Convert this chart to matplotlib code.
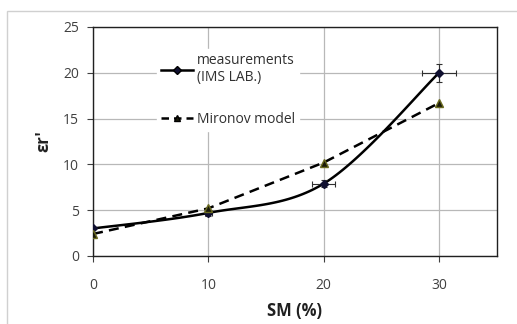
import numpy as np
import matplotlib
matplotlib.use('Agg')
import matplotlib.pyplot as plt
from matplotlib.patches import Rectangle

plt.rcParams['font.family'] = ['Open Sans', 'DejaVu Sans']

sm = [0, 10, 20, 30]
meas = [3.0, 4.7, 7.9, 20.0]
meas_xerr = [0.0, 0.3, 1.0, 1.5]
meas_yerr = [0.0, 0.3, 0.4, 1.0]
mironov = [2.4, 5.2, 10.2, 16.7]


def smooth(x, y, n=40):
    # excel-like smoothed line (catmull-rom)
    x = np.asarray(x, float)
    y = np.asarray(y, float)
    px = np.concatenate([[x[0]], x, [x[-1]]])
    py = np.concatenate([[y[0]], y, [y[-1]]])
    xs, ys = [], []
    t = np.linspace(0, 1, n)
    for i in range(1, len(px) - 2):
        p0, p1, p2, p3 = [np.array([px[j], py[j]]) for j in range(i - 1, i + 3)]
        c1 = p1 + (p2 - p0) / 6
        c2 = p2 - (p3 - p1) / 6
        pts = ((1 - t) ** 3)[:, None] * p1 + (3 * (1 - t) ** 2 * t)[:, None] * c1 \
            + (3 * (1 - t) * t ** 2)[:, None] * c2 + (t ** 3)[:, None] * p2
        xs.extend(pts[:, 0])
        ys.extend(pts[:, 1])
    return xs, ys


fig = plt.figure(figsize=(5.17, 3.24), dpi=100)
fig.patches.append(Rectangle((7 / 517, -0.1), 1.2, 1 - 11 / 324 + 0.1, transform=fig.transFigure,
                             fill=False, edgecolor='#d0d0d0', lw=1))
ax = fig.add_axes([0.180, 0.210, 0.781, 0.707])

ax.grid(True, color='#b8b8b8', lw=0.9)
ax.set_axisbelow(True)

sx, sy = smooth(sm, meas)
ax.plot(sx, sy, color='black', lw=1.8, zorder=3)
ax.errorbar(sm, meas, xerr=meas_xerr, yerr=meas_yerr, fmt='none', ecolor='#303030',
            elinewidth=0.8, capsize=2.5, capthick=0.8, zorder=4)
ax.plot(sm, meas, 'D', color='#101030', ms=4.5, zorder=5)
ax.plot(sm, mironov, '--', color='black', lw=1.8, dashes=(4, 2.5), zorder=3)
ax.plot(sm, mironov, '^', color='#1a1a0a', mec='#6b6b20', ms=6, zorder=5)

h1, = ax.plot([], [], '-D', color='black', mfc='#101030', ms=4, lw=1.8)
h2, = ax.plot([], [], '--^', color='black', mfc='#1a1a0a', ms=5, lw=1.8, dashes=(3, 2))
leg = ax.legend([h1, h2], ['measurements\n(IMS LAB.)', 'Mironov model'], loc='upper left',
                bbox_to_anchor=(0.14, 0.935), frameon=True, fancybox=False, framealpha=1,
                edgecolor='white', fontsize=10, handlelength=2.3, labelspacing=1.95,
                borderpad=0.3, handletextpad=0.3, labelcolor='#303030')

ax.set_xlim(0, 35)
ax.set_ylim(0, 25)
ax.set_xticks([0, 10, 20, 30])
ax.set_yticks([0, 5, 10, 15, 20, 25])
ax.tick_params(labelsize=10, labelcolor='#404040', length=4, color='#404040', pad=12)
ax.tick_params(axis='y', pad=6)
for s in ax.spines.values():
    s.set_color('#202020')
    s.set_linewidth(1.0)
ax.set_xlabel('SM (%)', fontsize=12, fontweight='bold', labelpad=6, color='#202020')
ax.set_ylabel("εr'", fontsize=12, fontweight='bold', labelpad=8, color='#202020')

fig.savefig('out.png', dpi=100)
